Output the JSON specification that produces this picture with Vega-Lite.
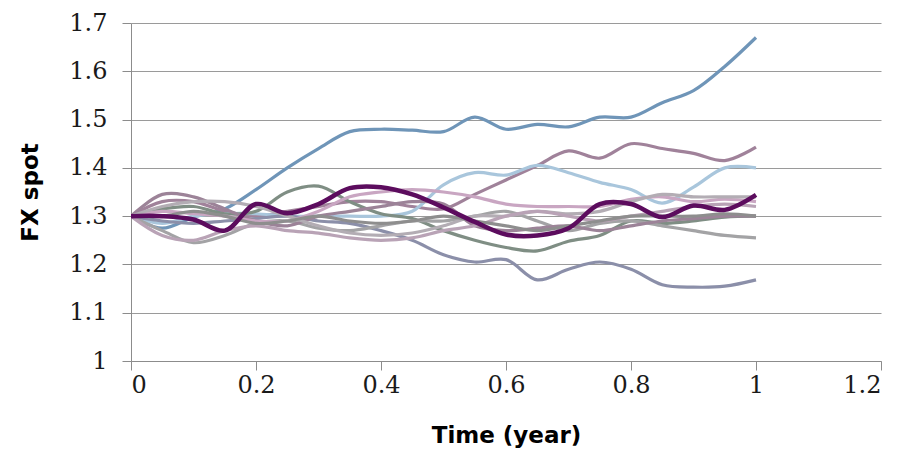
{
  "$schema": "https://vega.github.io/schema/vega-lite/v6.json",
  "width": 750,
  "height": 338,
  "autosize": {"type": "none"},
  "padding": {"left": 131, "top": 23, "right": 24, "bottom": 92},
  "background": "white",
  "config": {"view": {"stroke": null}},
  "data": {"values": [
{"s":"s01","t":0,"v":1.30},{"s":"s01","t":0.05,"v":1.275},{"s":"s01","t":0.1,"v":1.298},{"s":"s01","t":0.15,"v":1.315},{"s":"s01","t":0.2,"v":1.355},{"s":"s01","t":0.25,"v":1.40},{"s":"s01","t":0.3,"v":1.44},{"s":"s01","t":0.35,"v":1.475},{"s":"s01","t":0.4,"v":1.48},{"s":"s01","t":0.45,"v":1.478},{"s":"s01","t":0.5,"v":1.475},{"s":"s01","t":0.55,"v":1.505},{"s":"s01","t":0.6,"v":1.48},{"s":"s01","t":0.65,"v":1.49},{"s":"s01","t":0.7,"v":1.485},{"s":"s01","t":0.75,"v":1.505},{"s":"s01","t":0.8,"v":1.505},{"s":"s01","t":0.85,"v":1.535},{"s":"s01","t":0.9,"v":1.56},{"s":"s01","t":0.95,"v":1.61},{"s":"s01","t":1,"v":1.67},
{"s":"s02","t":0,"v":1.30},{"s":"s02","t":0.05,"v":1.33},{"s":"s02","t":0.1,"v":1.33},{"s":"s02","t":0.15,"v":1.31},{"s":"s02","t":0.2,"v":1.30},{"s":"s02","t":0.25,"v":1.31},{"s":"s02","t":0.3,"v":1.32},{"s":"s02","t":0.35,"v":1.33},{"s":"s02","t":0.4,"v":1.33},{"s":"s02","t":0.45,"v":1.32},{"s":"s02","t":0.5,"v":1.315},{"s":"s02","t":0.55,"v":1.345},{"s":"s02","t":0.6,"v":1.375},{"s":"s02","t":0.65,"v":1.405},{"s":"s02","t":0.7,"v":1.435},{"s":"s02","t":0.75,"v":1.42},{"s":"s02","t":0.8,"v":1.45},{"s":"s02","t":0.85,"v":1.44},{"s":"s02","t":0.9,"v":1.43},{"s":"s02","t":0.95,"v":1.415},{"s":"s02","t":1,"v":1.443},
{"s":"s03","t":0,"v":1.30},{"s":"s03","t":0.05,"v":1.285},{"s":"s03","t":0.1,"v":1.30},{"s":"s03","t":0.15,"v":1.305},{"s":"s03","t":0.2,"v":1.305},{"s":"s03","t":0.25,"v":1.30},{"s":"s03","t":0.3,"v":1.30},{"s":"s03","t":0.35,"v":1.30},{"s":"s03","t":0.4,"v":1.30},{"s":"s03","t":0.45,"v":1.31},{"s":"s03","t":0.5,"v":1.365},{"s":"s03","t":0.55,"v":1.39},{"s":"s03","t":0.6,"v":1.385},{"s":"s03","t":0.65,"v":1.405},{"s":"s03","t":0.7,"v":1.39},{"s":"s03","t":0.75,"v":1.37},{"s":"s03","t":0.8,"v":1.355},{"s":"s03","t":0.85,"v":1.327},{"s":"s03","t":0.9,"v":1.36},{"s":"s03","t":0.95,"v":1.40},{"s":"s03","t":1,"v":1.40},
{"s":"s04","t":0,"v":1.30},{"s":"s04","t":0.05,"v":1.315},{"s":"s04","t":0.1,"v":1.32},{"s":"s04","t":0.15,"v":1.305},{"s":"s04","t":0.2,"v":1.31},{"s":"s04","t":0.25,"v":1.35},{"s":"s04","t":0.3,"v":1.362},{"s":"s04","t":0.35,"v":1.33},{"s":"s04","t":0.4,"v":1.305},{"s":"s04","t":0.45,"v":1.295},{"s":"s04","t":0.5,"v":1.27},{"s":"s04","t":0.55,"v":1.25},{"s":"s04","t":0.6,"v":1.235},{"s":"s04","t":0.65,"v":1.228},{"s":"s04","t":0.7,"v":1.248},{"s":"s04","t":0.75,"v":1.26},{"s":"s04","t":0.8,"v":1.29},{"s":"s04","t":0.85,"v":1.285},{"s":"s04","t":0.9,"v":1.29},{"s":"s04","t":0.95,"v":1.298},{"s":"s04","t":1,"v":1.30},
{"s":"s05","t":0,"v":1.30},{"s":"s05","t":0.05,"v":1.29},{"s":"s05","t":0.1,"v":1.285},{"s":"s05","t":0.15,"v":1.29},{"s":"s05","t":0.2,"v":1.295},{"s":"s05","t":0.25,"v":1.30},{"s":"s05","t":0.3,"v":1.29},{"s":"s05","t":0.35,"v":1.285},{"s":"s05","t":0.4,"v":1.27},{"s":"s05","t":0.45,"v":1.25},{"s":"s05","t":0.5,"v":1.22},{"s":"s05","t":0.55,"v":1.205},{"s":"s05","t":0.6,"v":1.21},{"s":"s05","t":0.65,"v":1.168},{"s":"s05","t":0.7,"v":1.19},{"s":"s05","t":0.75,"v":1.205},{"s":"s05","t":0.8,"v":1.19},{"s":"s05","t":0.85,"v":1.158},{"s":"s05","t":0.9,"v":1.153},{"s":"s05","t":0.95,"v":1.155},{"s":"s05","t":1,"v":1.168},
{"s":"s06","t":0,"v":1.30},{"s":"s06","t":0.05,"v":1.27},{"s":"s06","t":0.1,"v":1.245},{"s":"s06","t":0.15,"v":1.26},{"s":"s06","t":0.2,"v":1.285},{"s":"s06","t":0.25,"v":1.29},{"s":"s06","t":0.3,"v":1.275},{"s":"s06","t":0.35,"v":1.27},{"s":"s06","t":0.4,"v":1.28},{"s":"s06","t":0.45,"v":1.29},{"s":"s06","t":0.5,"v":1.29},{"s":"s06","t":0.55,"v":1.30},{"s":"s06","t":0.6,"v":1.31},{"s":"s06","t":0.65,"v":1.29},{"s":"s06","t":0.7,"v":1.27},{"s":"s06","t":0.75,"v":1.285},{"s":"s06","t":0.8,"v":1.29},{"s":"s06","t":0.85,"v":1.28},{"s":"s06","t":0.9,"v":1.27},{"s":"s06","t":0.95,"v":1.26},{"s":"s06","t":1,"v":1.255},
{"s":"s07","t":0,"v":1.30},{"s":"s07","t":0.05,"v":1.345},{"s":"s07","t":0.1,"v":1.34},{"s":"s07","t":0.15,"v":1.315},{"s":"s07","t":0.2,"v":1.29},{"s":"s07","t":0.25,"v":1.28},{"s":"s07","t":0.3,"v":1.30},{"s":"s07","t":0.35,"v":1.31},{"s":"s07","t":0.4,"v":1.32},{"s":"s07","t":0.45,"v":1.33},{"s":"s07","t":0.5,"v":1.325},{"s":"s07","t":0.55,"v":1.28},{"s":"s07","t":0.6,"v":1.27},{"s":"s07","t":0.65,"v":1.275},{"s":"s07","t":0.7,"v":1.28},{"s":"s07","t":0.75,"v":1.27},{"s":"s07","t":0.8,"v":1.28},{"s":"s07","t":0.85,"v":1.29},{"s":"s07","t":0.9,"v":1.295},{"s":"s07","t":0.95,"v":1.30},{"s":"s07","t":1,"v":1.30},
{"s":"s08","t":0,"v":1.30},{"s":"s08","t":0.05,"v":1.31},{"s":"s08","t":0.1,"v":1.305},{"s":"s08","t":0.15,"v":1.30},{"s":"s08","t":0.2,"v":1.29},{"s":"s08","t":0.25,"v":1.29},{"s":"s08","t":0.3,"v":1.31},{"s":"s08","t":0.35,"v":1.34},{"s":"s08","t":0.4,"v":1.35},{"s":"s08","t":0.45,"v":1.355},{"s":"s08","t":0.5,"v":1.35},{"s":"s08","t":0.55,"v":1.34},{"s":"s08","t":0.6,"v":1.325},{"s":"s08","t":0.65,"v":1.32},{"s":"s08","t":0.7,"v":1.32},{"s":"s08","t":0.75,"v":1.32},{"s":"s08","t":0.8,"v":1.335},{"s":"s08","t":0.85,"v":1.34},{"s":"s08","t":0.9,"v":1.33},{"s":"s08","t":0.95,"v":1.335},{"s":"s08","t":1,"v":1.33},
{"s":"s09","t":0,"v":1.30},{"s":"s09","t":0.05,"v":1.32},{"s":"s09","t":0.1,"v":1.33},{"s":"s09","t":0.15,"v":1.33},{"s":"s09","t":0.2,"v":1.32},{"s":"s09","t":0.25,"v":1.30},{"s":"s09","t":0.3,"v":1.28},{"s":"s09","t":0.35,"v":1.265},{"s":"s09","t":0.4,"v":1.26},{"s":"s09","t":0.45,"v":1.265},{"s":"s09","t":0.5,"v":1.28},{"s":"s09","t":0.55,"v":1.30},{"s":"s09","t":0.6,"v":1.30},{"s":"s09","t":0.65,"v":1.31},{"s":"s09","t":0.7,"v":1.305},{"s":"s09","t":0.75,"v":1.31},{"s":"s09","t":0.8,"v":1.33},{"s":"s09","t":0.85,"v":1.345},{"s":"s09","t":0.9,"v":1.34},{"s":"s09","t":0.95,"v":1.34},{"s":"s09","t":1,"v":1.34},
{"s":"s10","t":0,"v":1.30},{"s":"s10","t":0.05,"v":1.26},{"s":"s10","t":0.1,"v":1.25},{"s":"s10","t":0.15,"v":1.27},{"s":"s10","t":0.2,"v":1.28},{"s":"s10","t":0.25,"v":1.27},{"s":"s10","t":0.3,"v":1.265},{"s":"s10","t":0.35,"v":1.255},{"s":"s10","t":0.4,"v":1.25},{"s":"s10","t":0.45,"v":1.255},{"s":"s10","t":0.5,"v":1.27},{"s":"s10","t":0.55,"v":1.28},{"s":"s10","t":0.6,"v":1.30},{"s":"s10","t":0.65,"v":1.31},{"s":"s10","t":0.7,"v":1.30},{"s":"s10","t":0.75,"v":1.29},{"s":"s10","t":0.8,"v":1.30},{"s":"s10","t":0.85,"v":1.31},{"s":"s10","t":0.9,"v":1.32},{"s":"s10","t":0.95,"v":1.325},{"s":"s10","t":1,"v":1.32},
{"s":"s11","t":0,"v":1.30},{"s":"s11","t":0.05,"v":1.30},{"s":"s11","t":0.1,"v":1.31},{"s":"s11","t":0.15,"v":1.30},{"s":"s11","t":0.2,"v":1.285},{"s":"s11","t":0.25,"v":1.29},{"s":"s11","t":0.3,"v":1.30},{"s":"s11","t":0.35,"v":1.29},{"s":"s11","t":0.4,"v":1.285},{"s":"s11","t":0.45,"v":1.29},{"s":"s11","t":0.5,"v":1.30},{"s":"s11","t":0.55,"v":1.29},{"s":"s11","t":0.6,"v":1.28},{"s":"s11","t":0.65,"v":1.27},{"s":"s11","t":0.7,"v":1.28},{"s":"s11","t":0.75,"v":1.29},{"s":"s11","t":0.8,"v":1.30},{"s":"s11","t":0.85,"v":1.30},{"s":"s11","t":0.9,"v":1.30},{"s":"s11","t":0.95,"v":1.305},{"s":"s11","t":1,"v":1.30},
{"s":"s12","t":0,"v":1.30},{"s":"s12","t":0.05,"v":1.30},{"s":"s12","t":0.1,"v":1.293},{"s":"s12","t":0.15,"v":1.27},{"s":"s12","t":0.2,"v":1.325},{"s":"s12","t":0.25,"v":1.306},{"s":"s12","t":0.3,"v":1.325},{"s":"s12","t":0.35,"v":1.358},{"s":"s12","t":0.4,"v":1.36},{"s":"s12","t":0.45,"v":1.345},{"s":"s12","t":0.5,"v":1.318},{"s":"s12","t":0.55,"v":1.288},{"s":"s12","t":0.6,"v":1.262},{"s":"s12","t":0.65,"v":1.26},{"s":"s12","t":0.7,"v":1.275},{"s":"s12","t":0.75,"v":1.325},{"s":"s12","t":0.8,"v":1.325},{"s":"s12","t":0.85,"v":1.298},{"s":"s12","t":0.9,"v":1.322},{"s":"s12","t":0.95,"v":1.313},{"s":"s12","t":1,"v":1.344}
  ]},
  "mark": {"type": "line", "interpolate": "catmull-rom", "clip": true},
  "encoding": {
    "x": {
      "field": "t", "type": "quantitative",
      "scale": {"domain": [0, 1.2], "nice": false},
      "axis": {
        "values": [0, 0.2, 0.4, 0.6, 0.8, 1, 1.2],
        "format": "~f",
        "title": "Time (year)",
        "grid": false,
        "domainColor": "#8c8c8c",
        "tickColor": "#8c8c8c",
        "tickSize": 9,
        "labelFont": "DejaVu Serif",
        "labelFontSize": 24,
        "labelColor": "#1a1a1a",
        "labelPadding": 3,
        "titleFont": "DejaVu Sans",
        "titleFontWeight": "bold",
        "titleFontSize": 23,
        "titleColor": "#000000",
        "titlePadding": 27
      }
    },
    "y": {
      "field": "v", "type": "quantitative",
      "scale": {"domain": [1, 1.7], "nice": false, "zero": false},
      "axis": {
        "values": [1, 1.1, 1.2, 1.3, 1.4, 1.5, 1.6, 1.7],
        "format": "~f",
        "title": "FX spot",
        "grid": true,
        "gridColor": "#9a9a9a",
        "gridWidth": 1,
        "domainColor": "#8c8c8c",
        "tickColor": "#8c8c8c",
        "tickSize": 9,
        "labelFont": "DejaVu Serif",
        "labelFontSize": 24,
        "labelColor": "#1a1a1a",
        "labelPadding": 15,
        "titleFont": "DejaVu Sans",
        "titleFontWeight": "bold",
        "titleFontSize": 23,
        "titleColor": "#000000",
        "titlePadding": 26
      }
    },
    "color": {
      "field": "s", "type": "nominal", "legend": null,
      "scale": {
        "domain": ["s01","s02","s03","s04","s05","s06","s07","s08","s09","s10","s11","s12"],
        "range": ["#6f95b8","#a0829a","#a9c6dc","#7f8e84","#8b8fa9","#a3a3a5","#9c8398","#c9a6c2","#b3adb4","#b9a3b6","#8e8e8e","#5c0c5e"]
      }
    },
    "strokeWidth": {
      "condition": {"test": "datum.s === 's12'", "value": 4.5},
      "value": 3.2
    }
  }
}
